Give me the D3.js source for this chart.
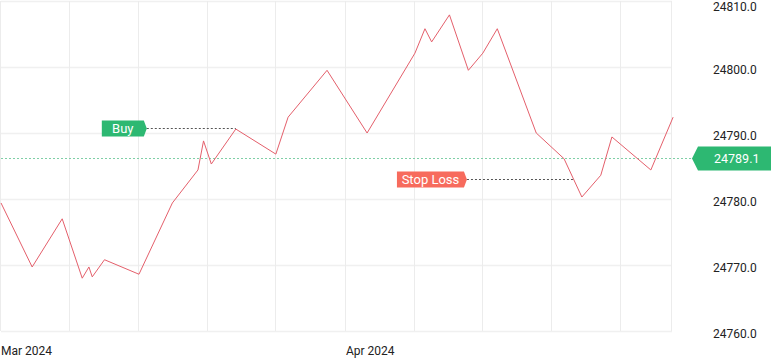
<!DOCTYPE html>
<html>
<head>
<meta charset="utf-8">
<script src="https://cdn.jsdelivr.net/npm/d3@7"></script>
<style>
  body { margin: 0; background: #fff; }
  svg text { font-family: Roboto, "Noto Sans", sans-serif; }
</style>
</head>
<body>
<div id="chart"></div>
<script>
// Data: days since 1 Mar 2024 and price
var days = [0, 2.8, 5.5, 7.3, 7.9, 8.2, 9.3, 12.4, 15.4, 17.7, 18.2, 18.9, 21.1, 24.7, 25.8,
  29.3, 32.9, 37.2, 38.1, 38.7, 40.3, 42.0, 43.3, 44.6, 48.1, 50.6, 52.2, 53.9, 54.9, 58.4, 60.4];
var prices = [24779.4, 24769.7, 24777.0, 24768.0, 24769.7, 24768.2, 24770.8, 24768.6, 24779.4, 24784.4,
  24788.8, 24785.3, 24790.6, 24786.8, 24792.4, 24799.5, 24790.0, 24802.1, 24805.8, 24803.8, 24807.9,
  24799.5, 24802.1, 24805.8, 24790.0, 24786.1, 24780.3, 24783.6, 24789.4, 24784.4, 24792.4];

var yTicks = [24760, 24770, 24780, 24790, 24800, 24810];
var gridDays = [6.2, 12.4, 18.6, 24.7, 31, 37.2, 43.3, 49.5, 55.7];
var monthDays = [0, 31];
var monthLabels = ["Mar 2024", "Apr 2024"];

// markers
var buyDay = 21.1, buyPrice = 24790.7;
var stopDay = 51.4, stopPrice = 24783.0;
var currentPrice = 24786.2;
var currentLabel = "24789.1";

var svgWidth = 771;
var svgHeight = 358;
var margin = { top: 1, right: 99, bottom: 27, left: 1 };
var width = svgWidth - margin.left - margin.right;
var height = svgHeight - margin.top - margin.bottom;

var svg = d3.select("#chart")
  .append("svg")
  .attr("width", svgWidth)
  .attr("height", svgHeight);

var chartGroup = svg.append("g")
  .attr("transform", `translate(${margin.left}, ${margin.top})`);

var xScale = d3.scaleLinear().domain([0, 60.3]).range([0, width]);
var yScale = d3.scaleLinear().domain([24760, 24810]).range([height, 0]);

// Grid lines
chartGroup.append("g")
  .selectAll("line")
  .data(yTicks)
  .enter()
  .append("line")
  .attr("x1", 0)
  .attr("x2", width)
  .attr("y1", d => Math.round(yScale(d)) + 0.5)
  .attr("y2", d => Math.round(yScale(d)) + 0.5)
  .attr("stroke", "#f0f0f0")
  .attr("stroke-width", 1.5);

chartGroup.append("g")
  .selectAll("line")
  .data([0].concat(gridDays).concat([60.3]))
  .enter()
  .append("line")
  .attr("x1", d => Math.round(xScale(d)) - 0.5)
  .attr("x2", d => Math.round(xScale(d)) - 0.5)
  .attr("y1", 0)
  .attr("y2", height)
  .attr("stroke", "#ececec")
  .attr("stroke-width", 1);

// Right axis labels
chartGroup.append("g")
  .selectAll("text")
  .data(yTicks)
  .enter()
  .append("text")
  .attr("x", 712)
  .attr("y", d => Math.max(yScale(d) + 3, 6))
  .attr("dy", "0.35em")
  .attr("font-size", "12px")
  .attr("fill", "#222")
  .text(d => d.toFixed(1));

// Bottom axis labels
chartGroup.append("g")
  .selectAll("text")
  .data(monthDays)
  .enter()
  .append("text")
  .attr("x", d => xScale(d))
  .attr("y", height + 20)
  .attr("dy", "0.35em")
  .attr("font-size", "12px")
  .attr("fill", "#222")
  .text((d, i) => monthLabels[i]);

// Current price line
var cy = Math.round(yScale(currentPrice)) + 0.5;
chartGroup.append("line")
  .attr("x1", 0)
  .attr("x2", 692)
  .attr("y1", cy)
  .attr("y2", cy)
  .attr("stroke", "#7fcfa6")
  .attr("stroke-width", 1.2)
  .attr("stroke-dasharray", "2,2");

// Price line
var line = d3.line()
  .x((d, i) => xScale(days[i]))
  .y(d => yScale(d));

chartGroup.append("path")
  .datum(prices)
  .attr("d", line)
  .attr("fill", "none")
  .attr("stroke", "#e45f6b")
  .attr("stroke-width", 1);

// Marker labels with dotted leader
function marker(day, price, text, boxW, offset, color) {
  var mx = xScale(day);
  var my = Math.round(yScale(price)) + 0.5;
  var right = mx - offset;
  chartGroup.append("line")
    .attr("x1", right + 3)
    .attr("x2", mx)
    .attr("y1", my)
    .attr("y2", my)
    .attr("stroke", "#555")
    .attr("stroke-width", 1.2)
    .attr("stroke-dasharray", "2,2");
  chartGroup.append("path")
    .attr("d", `M${right - boxW},${my - 8}H${right}L${right + 3},${my}L${right},${my + 8}H${right - boxW}Z`)
    .attr("fill", color);
  chartGroup.append("text")
    .attr("x", right - boxW / 2)
    .attr("y", my)
    .attr("dy", "0.36em")
    .attr("text-anchor", "middle")
    .attr("font-size", "13px")
    .attr("fill", "#fff")
    .text(text);
}

marker(buyDay, buyPrice, "Buy", 42, 92, "#2db872");
marker(stopDay, stopPrice, "Stop Loss", 67, 109, "#f76b5d");

// Current price tag
chartGroup.append("path")
  .attr("d", `M691,${cy}L697,${cy - 12}H${svgWidth}V${cy + 12}H697Z`)
  .attr("fill", "#2db872");
chartGroup.append("text")
  .attr("x", 713)
  .attr("y", cy)
  .attr("dy", "0.35em")
  .attr("font-size", "12.5px")
  .attr("fill", "#fff")
  .text(currentLabel);
</script>
</body>
</html>
